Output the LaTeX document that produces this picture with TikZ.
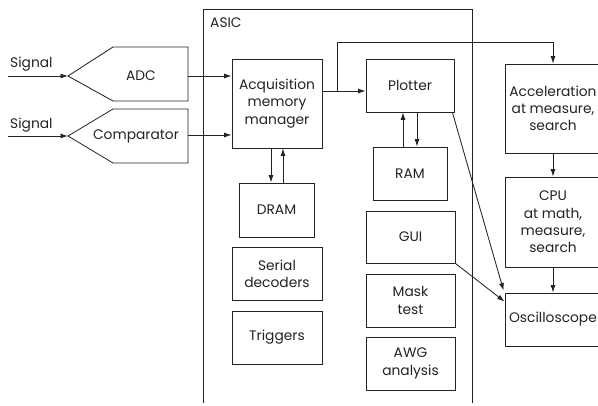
\documentclass[tikz,border=0pt]{standalone}
\usepackage{fontspec}
\setmainfont{Poppins}
\usetikzlibrary{arrows.meta}
\definecolor{ink}{RGB}{35,35,35}
\tikzset{
  blk/.style={draw=ink, line width=0.85pt, inner sep=0pt, align=center,
              text=ink, font=\fontsize{13.8}{17.3}\selectfont},
  lbl/.style={inner sep=0pt, text=ink, font=\fontsize{13.8}{17.3}\selectfont},
  conn/.style={draw=ink, line width=0.85pt, -{Latex[length=7.5pt,width=5pt]}},
  wire/.style={draw=ink, line width=0.85pt}
}
\begin{document}
\begin{tikzpicture}[x=1pt,y=-1pt]
\useasboundingbox (0,0) rectangle (598,406);

% ASIC enclosure, open at the bottom
\draw[wire] (203,403) -- (203,9) -- (472,9) -- (472,403);
\node[lbl, anchor=west] (asic) at (210,23) {ASIC};

% front-end converters
\coordinate (adctip) at (68,76);
\coordinate (cmptip) at (68,136);
\draw[wire] (adctip) -- (113,47) -- (188,47) -- (188,101) -- (113,101) -- cycle;
\draw[wire] (cmptip) -- (113,109) -- (188,109) -- (188,163) -- (113,163) -- cycle;
\node[lbl] (adc) at (141,76) {ADC};
\node[lbl] (cmp) at (136,136) {Comparator};
\coordinate (adcout) at (188,76);
\coordinate (cmpout) at (188,135);

\node[lbl, anchor=base west] (sig1) at (10,68) {Signal};
\node[lbl, anchor=base west] (sig2) at (10,129) {Signal};
\coordinate (in1) at (8,76);
\coordinate (in2) at (8,136);

% ASIC blocks
\node[blk, minimum width=90pt, minimum height=89pt] (amm) at (277,103.5) {Acquisition\\memory\\manager};
\node[blk, minimum width=88pt, minimum height=53pt] (plot) at (410,85.5) {Plotter};
\node[blk, minimum width=74pt, minimum height=53pt] (ram) at (410,173.5) {RAM};
\node[blk, minimum width=75pt, minimum height=54pt] (dram) at (276.5,210) {DRAM};
\node[blk, minimum width=90pt, minimum height=53pt] (serial) at (277,273.5) {Serial\\decoders};
\node[blk, minimum width=90pt, minimum height=53pt] (trig) at (277,337.5) {Triggers};
\node[blk, minimum width=89pt, minimum height=52pt] (gui) at (410.5,237) {GUI};
\node[blk, minimum width=89pt, minimum height=53pt] (mask) at (410.5,300.5) {Mask\\test};
\node[blk, minimum width=89pt, minimum height=53pt] (awg) at (410.5,363.5) {AWG\\analysis};

% host side
\node[blk, minimum width=96pt, minimum height=89pt] (acc) at (553,108.5) {Acceleration\\at measure,\\search};
\node[blk, minimum width=96pt, minimum height=90pt] (cpu) at (553,222) {CPU\\at math,\\measure,\\search};
\node[blk, minimum width=96pt, minimum height=53pt] (osc) at (553,319.5) {Oscilloscope};

% connectors
\draw[conn] (in1) -- (adctip);
\draw[conn] (in2) -- (cmptip);
\draw[conn] (adcout) -- (adcout -| amm.west);
\draw[conn] (cmpout) -- (cmpout -| amm.west);

\coordinate (split) at (337,91);
\draw[conn] (split -| amm.east) -- (split -| plot.west);
\draw[conn] (split) -- (337,42) -- (acc.north |- 0,42) -- (acc.north);

\draw[conn] ([xshift=-6pt]amm.south) -- ([xshift=-5.5pt]dram.north);
\draw[conn] ([xshift=6.5pt]dram.north) -- ([xshift=6pt]amm.south);
\draw[conn] ([xshift=-7pt]ram.north) -- ([xshift=-7pt]plot.south);
\draw[conn] ([xshift=7pt]plot.south) -- ([xshift=7pt]ram.north);

\draw[conn] (acc.south) -- (cpu.north);
\draw[conn] (cpu.south) -- (osc.north);

\draw[conn] ([xshift=-2pt]plot.south east) -- ([xshift=-1pt,yshift=2pt]osc.north west);
\draw[conn] (gui.south east) -- ([yshift=-9pt]osc.north west);
\end{tikzpicture}
\end{document}
